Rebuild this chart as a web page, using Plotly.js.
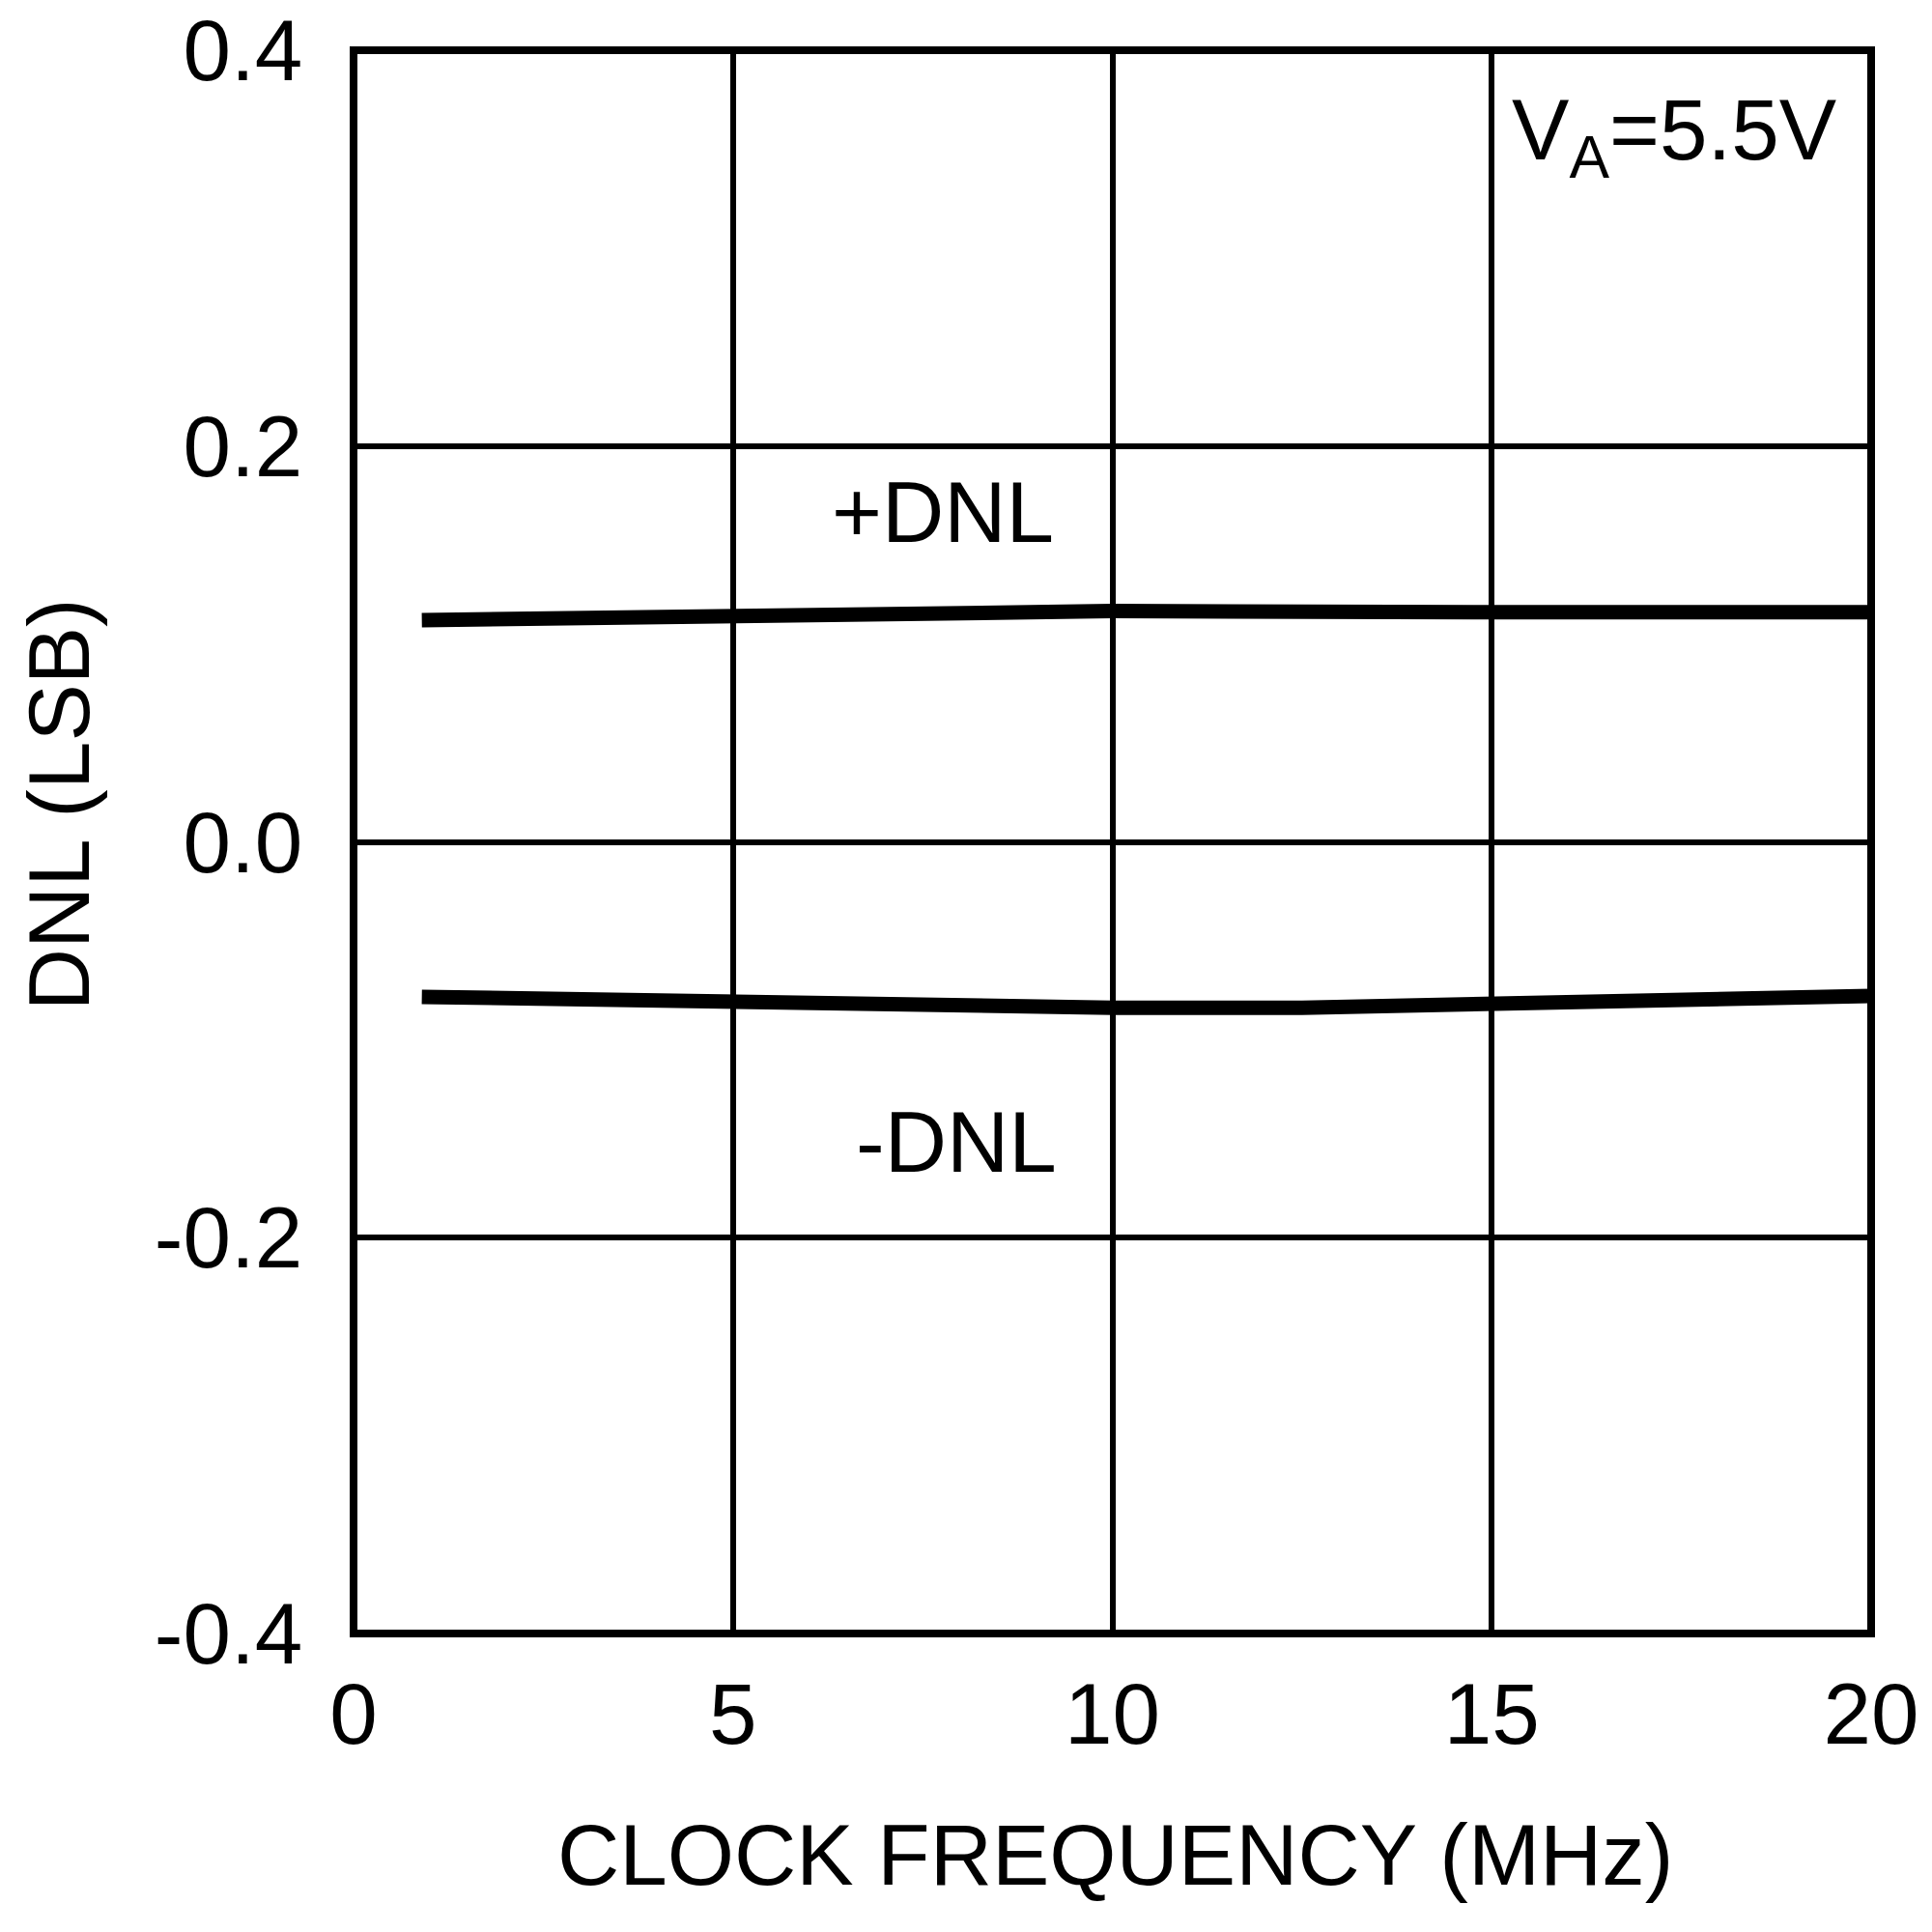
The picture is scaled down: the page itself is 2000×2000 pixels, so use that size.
<!DOCTYPE html>
<html>
<head>
<meta charset="utf-8">
<script src="https://cdn.plot.ly/plotly-3.0.1.min.js"></script>
<style>html,body{margin:0;padding:0;background:#fff;}#chart{width:2000px;height:2000px;}</style>
</head>
<body>
<div id="chart"></div>
<script>
// Data
const freqPos = [0.9, 5, 10, 15, 20];
const dnlPos = [0.112, 0.1147, 0.1166, 0.116, 0.116];
const freqNeg = [0.9, 5, 8.5, 10, 12.5, 15, 20];
const dnlNeg = [-0.0783, -0.0814, -0.0838, -0.0838, -0.0838, -0.0814, -0.0778];
const xTicks = [0, 5, 10, 15, 20];
const yTicks = [-0.4, -0.2, 0.0, 0.2, 0.4];
const labelPos = "+DNL";
const labelNeg = "-DNL";
const condLabel = "V<sub>A</sub>=5.5V";
const xTitle = "CLOCK FREQUENCY (MHz)";
const yTitle = "DNL (LSB)";

const FONT = '"Liberation Sans", Arial, Helvetica, sans-serif';

const traces = [
  {x: freqPos, y: dnlPos, mode: 'lines', line: {color: '#000', width: 15}, hoverinfo: 'skip'},
  {x: freqNeg, y: dnlNeg, mode: 'lines', line: {color: '#000', width: 15}, hoverinfo: 'skip'}
];

const layout = {
  width: 2000, height: 2000,
  paper_bgcolor: '#fff', plot_bgcolor: '#fff',
  showlegend: false,
  margin: {l: 366, r: 63, t: 52, b: 309, pad: 0},
  font: {family: FONT, size: 89, color: '#000'},
  xaxis: {
    range: [0, 20], tickvals: xTicks, ticktext: xTicks.map(String),
    showgrid: true, gridcolor: '#000', gridwidth: 6,
    zeroline: false, showline: false,
    ticks: 'outside', ticklen: 6, tickcolor: 'rgba(0,0,0,0)',
    tickfont: {family: FONT, size: 89, color: '#000'},
    fixedrange: true
  },
  yaxis: {
    range: [-0.4, 0.4], tickvals: yTicks, ticktext: yTicks.map(v => v.toFixed(1)),
    showgrid: true, gridcolor: '#000', gridwidth: 6,
    zeroline: true, zerolinecolor: '#000', zerolinewidth: 6, showline: false,
    ticks: 'outside', ticklen: 34, tickcolor: 'rgba(0,0,0,0)',
    tickfont: {family: FONT, size: 89, color: '#000'},
    fixedrange: true
  },
  shapes: [
    {type: 'rect', xref: 'paper', yref: 'paper', x0: 0, x1: 1, y0: 0, y1: 1,
     line: {color: '#000', width: 8}, fillcolor: 'rgba(0,0,0,0)', layer: 'above'}
  ],
  annotations: [
    {text: labelPos, x: 7.77, y: 0.1667, xref: 'x', yref: 'y', showarrow: false,
     xanchor: 'center', yanchor: 'middle', font: {family: FONT, size: 89, color: '#000'}},
    {text: labelNeg, x: 7.94, y: -0.1515, xref: 'x', yref: 'y', showarrow: false,
     xanchor: 'center', yanchor: 'middle', font: {family: FONT, size: 89, color: '#000'}},
    {text: condLabel, x: 19.57, y: 0.357, xref: 'x', yref: 'y', showarrow: false,
     xanchor: 'right', yanchor: 'middle', font: {family: FONT, size: 89, color: '#000'}},
    {text: xTitle, x: 0.502, y: -0.1397, xref: 'paper', yref: 'paper', showarrow: false,
     xanchor: 'center', yanchor: 'middle', font: {family: FONT, size: 89, color: '#000'}},
    {text: yTitle, x: -0.194, y: 0.5235, xref: 'paper', yref: 'paper', showarrow: false,
     textangle: -90, xanchor: 'center', yanchor: 'middle', font: {family: FONT, size: 89, color: '#000'}}
  ]
};

Plotly.newPlot('chart', traces, layout, {staticPlot: true, displayModeBar: false});
</script>
</body>
</html>
